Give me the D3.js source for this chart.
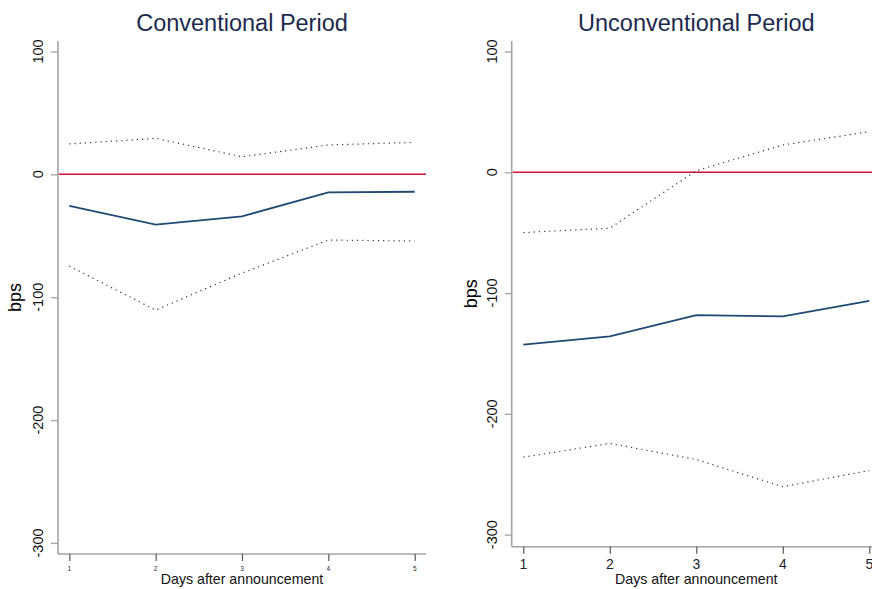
<!DOCTYPE html>
<html>
<head>
<meta charset="utf-8">
<script src="https://cdn.jsdelivr.net/npm/d3@7"></script>
<style>
  html, body { margin: 0; padding: 0; background: #ffffff; }
  svg { display: block; }
  text { font-family: "Liberation Sans", Arial, sans-serif; }
</style>
</head>
<body>
<svg id="chart" width="872" height="589"></svg>
<script>
// Days after the announcement
const days = [1, 2, 3, 4, 5];
const yTicks = [-300, -200, -100, 0, 100];

// Conventional period: point estimate and confidence band (bps)
const convEstimate = [-25.6, -41.0, -34.2, -14.7, -14.2];
const convUpper    = [24.7, 29.3, 14.3, 23.9, 26.0];
const convLower    = [-74.7, -110.5, -80.4, -53.5, -54.3];

// Unconventional period: point estimate and confidence band (bps)
const unconvEstimate = [-142.7, -135.9, -118.2, -119.3, -106.4];
const unconvUpper    = [-49.9, -46.3, 1.3, 22.6, 33.6];
const unconvLower    = [-235.9, -224.5, -237.8, -260.3, -246.9];

const svg = d3.select("#chart");

const panels = [
  {
    title: "Conventional Period",
    est: convEstimate, up: convUpper, lo: convLower,
    x: d3.scaleLinear().domain([0.869, 5.131]).range([58, 426]),
    y: d3.scaleLinear().domain([-309, 108.5]).range([554, 41]),
    xTickSize: 6.5, xTickBaseline: 571,
    yLabelX: 43, bpsX: 21,
  },
  {
    title: "Unconventional Period",
    est: unconvEstimate, up: unconvUpper, lo: unconvLower,
    x: d3.scaleLinear().domain([0.866, 5.134]).range([511.7, 880.9]),
    y: d3.scaleLinear().domain([-310, 108.7]).range([546.7, 41]),
    xTickSize: 14, xTickBaseline: 569,
    yLabelX: 497, bpsX: 477,
  }
];

const axisColor = "#a3a3a3";
const titleColor = "#1c2a4d";

panels.forEach(p => {
  const g = svg.append("g");
  const [x0, x1] = p.x.range();
  const [yBottom, yTop] = p.y.range();

  // Title
  g.append("text")
    .attr("x", (p.x(1) + p.x(5)) / 2)
    .attr("y", 31)
    .attr("text-anchor", "middle")
    .attr("font-size", 23.5)
    .attr("fill", titleColor)
    .text(p.title);

  // Y axis
  const yAxis = d3.axisLeft(p.y).tickValues(yTicks).tickSize(7).tickFormat("");
  const ya = g.append("g").attr("transform", `translate(${x0},0)`).call(yAxis);
  ya.select(".domain").attr("stroke", axisColor).attr("stroke-width", 1.6)
    .attr("d", `M0,${yTop}V${yBottom}`);
  ya.selectAll(".tick line").attr("stroke", axisColor).attr("stroke-width", 1.3);

  // Rotated y tick labels
  g.selectAll(".ylab").data(yTicks).enter().append("text")
    .attr("transform", d => `translate(${p.yLabelX},${p.y(d)}) rotate(-90)`)
    .attr("text-anchor", "middle")
    .attr("font-size", 14.5)
    .attr("fill", "#111")
    .text(d => d);

  // Y title
  g.append("text")
    .attr("transform", `translate(${p.bpsX},${(yTop + yBottom) / 2}) rotate(-90)`)
    .attr("text-anchor", "middle")
    .attr("font-size", 18)
    .attr("fill", "#000")
    .text("bps");

  // X axis
  const xAxis = d3.axisBottom(p.x).tickValues(days).tickSize(7).tickFormat("");
  const xa = g.append("g").attr("transform", `translate(0,${yBottom})`).call(xAxis);
  xa.select(".domain").attr("stroke", axisColor).attr("stroke-width", 1.6)
    .attr("d", `M${x0},0H${x1}`);
  xa.selectAll(".tick line").attr("stroke", "#555").attr("stroke-width", 1.2);

  g.selectAll(".xlab").data(days).enter().append("text")
    .attr("x", d => p.x(d))
    .attr("y", p.xTickBaseline)
    .attr("text-anchor", "middle")
    .attr("font-size", p.xTickSize)
    .attr("fill", "#1a1f33")
    .text(d => d);

  // X title
  g.append("text")
    .attr("x", (p.x(1) + p.x(5)) / 2)
    .attr("y", 584)
    .attr("text-anchor", "middle")
    .attr("font-size", 14.2)
    .attr("fill", "#111")
    .text("Days after announcement");

  // Zero reference line
  g.append("line")
    .attr("x1", x0 + 1).attr("x2", x1)
    .attr("y1", p.y(0)).attr("y2", p.y(0))
    .attr("stroke", "#d0103f").attr("stroke-width", 1.4);

  const line = d3.line().x((d, i) => p.x(days[i])).y(d => p.y(d));

  // Confidence band limits (dotted)
  [p.up, p.lo].forEach(series => {
    g.append("path")
      .datum(series)
      .attr("d", line)
      .attr("fill", "none")
      .attr("stroke", "#333")
      .attr("stroke-width", 1.2)
      .attr("stroke-dasharray", "1.2,4");
  });

  // Point estimate
  g.append("path")
    .datum(p.est)
    .attr("d", line)
    .attr("fill", "none")
    .attr("stroke", "#1f4a73")
    .attr("stroke-width", 1.8);
});
</script>
</body>
</html>
